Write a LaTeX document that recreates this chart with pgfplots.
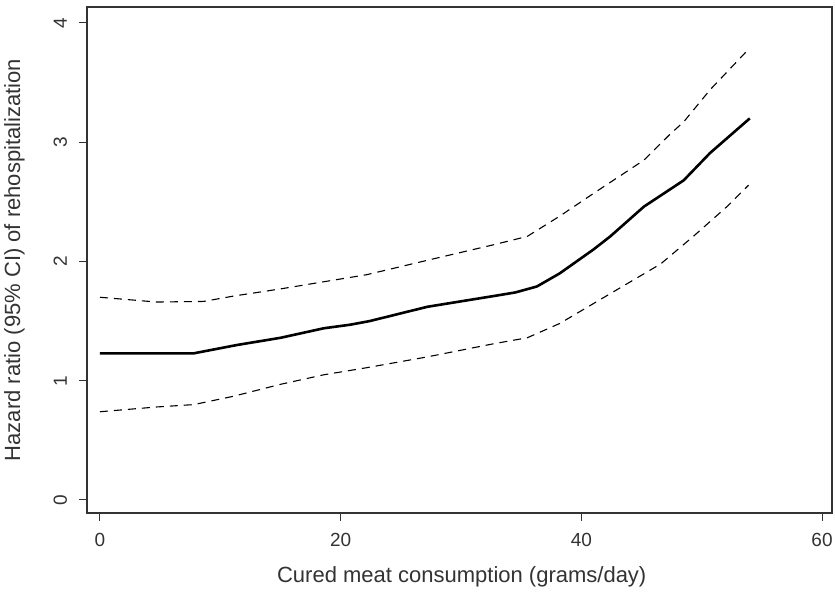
\documentclass[border=0pt]{standalone}
\usepackage{pgfplots}
\pgfplotsset{compat=1.18}
\usepackage{fontspec}
\setmainfont{Liberation Sans}
\begin{document}
\begin{tikzpicture}[x=1pt,y=1pt]
\useasboundingbox (0,0) rectangle (835,593);
\begin{axis}[
  at={(87pt,80pt)}, anchor=south west,
  scale only axis, width=745pt, height=506pt,
  xmin=-1.08, xmax=60.83, ymin=-0.109, ymax=4.134,
  xtick={0,20,40,60}, ytick={0,1,2,3,4},
  axis line style={line width=1.3pt, black!80},
  tick style={line width=1pt, black!80},
  tick align=outside, tick pos=left,
  major tick length=8pt,
  /pgf/number format/assume math mode=true,
  ticklabel style={font=\fontsize{19}{21}\selectfont, text=black!80},
  yticklabel style={xshift=-12pt, rotate=90, anchor=base},
  xticklabel style={anchor=base, yshift=-26pt},
  xlabel={Cured meat consumption (grams/day)},
  ylabel={Hazard ratio (95\% CI) of rehospitalization},
  label style={font=\fontsize{22}{24}\selectfont, text=black!80},
  xlabel style={at={(axis description cs:0.503,0)}, anchor=base, yshift=-70pt},
  ylabel style={at={(axis description cs:-0.0899,0.5)}, rotate=0, anchor=base},
]
\addplot[black, line width=2.6pt, line join=round] coordinates {
(0,1.23) (7.8,1.23) (11.4,1.30) (15,1.36) (18.6,1.44) (20.8,1.47) (22.4,1.50)
(27.2,1.62) (32.7,1.71) (34.5,1.74) (36.3,1.79) (38.2,1.90) (41,2.10) (42.4,2.21)
(45.2,2.46) (48.5,2.68) (50.7,2.91) (54,3.20)};
\addplot[black, line width=1.1pt, dash pattern=on 8pt off 6pt] coordinates {
(0,1.70) (4.7,1.66) (8.6,1.665) (11.1,1.71) (15,1.77) (18.6,1.83) (22.2,1.89)
(27.2,2.01) (32.7,2.14) (35.5,2.21) (38.2,2.38) (41,2.57) (45.2,2.85)
(47.4,3.07) (48.5,3.17) (50.7,3.44) (53.9,3.78)};
\addplot[black, line width=1.1pt, dash pattern=on 8pt off 6pt] coordinates {
(0,0.74) (4.7,0.78) (7.8,0.80) (11.1,0.87) (15,0.97) (18.6,1.05) (22.2,1.11)
(27.2,1.20) (32.7,1.31) (35.5,1.36) (38.2,1.48) (42.4,1.73) (46.6,1.98)
(49.3,2.21) (52.1,2.46) (53.9,2.64)};
\end{axis}
\end{tikzpicture}
\end{document}
